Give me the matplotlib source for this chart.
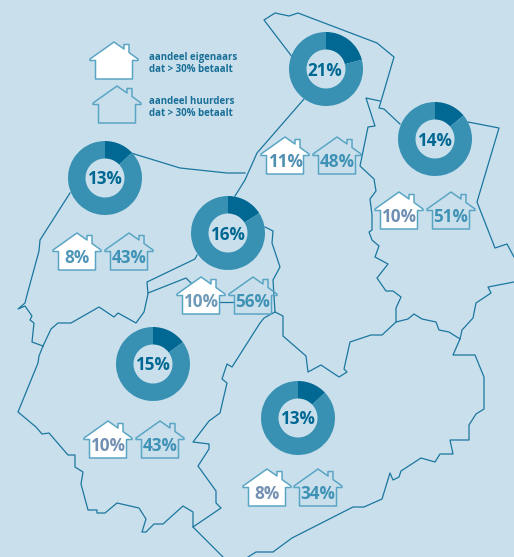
import matplotlib
matplotlib.use("Agg")
import matplotlib.pyplot as plt
from matplotlib.patches import Polygon

plt.rcParams['font.family'] = ['Open Sans', 'DejaVu Sans']

bg = '#c9e0ec'
ring = '#3891b3'
dark = '#006892'
line_col = '#1b769f'
edge = '#5ba5c4'

# donuts: share of all households, pixel centre
donut_vals = [21, 14, 13, 16, 15, 13]
donut_x = [326, 435, 105, 228, 153, 298]
donut_y = [69, 139, 178, 233, 364, 418]

# houses: owners / renters per region
owner_vals = [11, 10, 8, 10, 10, 8]
owner_x = [285, 399, 77, 201, 108, 267]
owner_y = [137, 192, 233, 277, 421, 469]
owner_cols = ['#4f8fb2', '#6f8fb2', '#4f97b8', '#6f9ab8', '#7190b2', '#7190b2']
renter_vals = [48, 51, 43, 56, 43, 34]
renter_x = [337, 451, 129, 253, 160, 318]
renter_y = [137, 192, 233, 277, 421, 469]

# map borders in picture pixels
border_north = [(293, 58), (264, 20), (275, 13), (289, 16), (298, 13), (377, 43), (394, 57),
                (379, 108), (384, 109), (400, 124)]
border_ne = [(468, 122), (499, 128), (477, 202), (495, 248), (507, 244), (514, 257)]
border_mid_e = [(380, 101), (366, 98), (375, 126), (368, 127), (360, 166), (374, 179), (376, 191),
                (370, 199), (372, 215), (372, 230), (369, 232), (372, 240), (379, 246), (375, 257),
                (388, 264), (377, 278), (386, 291), (393, 291), (401, 297), (396, 308), (396, 322)]
border_mid_n = [(304, 99), (257, 153), (245, 180), (235, 196)]
border_nw = [(131, 153), (180, 168), (227, 173), (245, 173)]
border_w = [(70, 193), (40, 240), (39, 251), (27, 295), (25, 303), (18, 309), (25, 306), (32, 316),
            (30, 320), (34, 323), (32, 342), (43, 346)]
border_sw_top = [(43, 346), (51, 329), (58, 323), (71, 323), (99, 307), (114, 317), (118, 313),
                 (136, 323), (144, 312), (148, 294), (147, 282), (195, 259), (197, 255)]
border_strip = [(148, 293), (186, 278), (191, 283)]
border_link = [(220, 302), (233, 302)]
border_mid_s = [(265, 227), (273, 231), (272, 243), (280, 267), (273, 280), (275, 312), (283, 316),
                (283, 336), (306, 356), (308, 372), (321, 365), (339, 377), (347, 372), (344, 369),
                (350, 342), (371, 335), (382, 335), (396, 322), (408, 319), (414, 314), (422, 319),
                (436, 322), (439, 330), (449, 332), (460, 339), (453, 355), (475, 355), (484, 377),
                (484, 409), (476, 414), (469, 425), (469, 440), (450, 440), (453, 454), (440, 454),
                (435, 462), (421, 458), (401, 471), (399, 477), (393, 480), (390, 473), (382, 499),
                (364, 507), (353, 507), (292, 538), (273, 552), (256, 552), (248, 557)]
border_east = [(460, 339), (462, 330), (473, 318), (476, 303), (491, 293), (488, 287), (514, 282)]
border_sw = [(275, 312), (264, 318), (260, 323), (232, 367), (227, 364), (222, 379), (227, 383),
             (220, 413), (209, 421), (193, 442), (209, 444), (209, 449), (198, 466), (216, 491),
             (216, 503), (221, 508), (193, 527), (193, 512), (183, 506), (163, 524), (154, 524),
             (146, 532), (142, 532), (146, 519), (139, 508), (117, 503), (105, 513), (97, 513),
             (97, 510), (88, 510), (81, 484), (83, 472), (75, 467), (75, 455), (68, 455), (49, 433),
             (42, 434), (36, 427), (18, 412), (38, 363), (39, 356), (43, 346)]
border_south = [(193, 527), (223, 557)]
borders = [border_north, border_ne, border_mid_e, border_mid_n, border_nw, border_w, border_sw_top,
           border_strip, border_link, border_mid_s, border_east, border_sw, border_south]

# house outline relative to the top of the roof
house_shape = [(0, 0), (10, 7), (10, 2.5), (15, 2.5), (15, 10.5), (24, 17), (24, 18.5), (18.5, 18.5),
               (18.5, 37), (-18.5, 37), (-18.5, 18.5), (-24, 18.5), (-24, 17)]

fig = plt.figure(figsize=(5.14, 5.57), dpi=100, facecolor=bg)
ax = fig.add_axes([0, 0, 1, 1])


def house(x, y, fill):
    pts = [(x + a, y + b) for a, b in house_shape]
    ax.add_patch(Polygon(pts, closed=True, facecolor=fill, edgecolor=edge, lw=1.1,
                         joinstyle='round', zorder=4))


for b in borders:
    ax.plot([p[0] for p in b], [p[1] for p in b], color=line_col, lw=0.9, zorder=1,
            solid_joinstyle='round')

for v, x, y in zip(donut_vals, donut_x, donut_y):
    # y axis is inverted, so -90 starts at twelve o'clock and runs clockwise
    ax.pie([v, 100 - v], colors=[dark, ring], center=(x, y), radius=37, startangle=-90,
           wedgeprops=dict(width=17.5, linewidth=0), normalize=True)
    ax.text(x - 1, y + 1.5, str(v) + '%', color=dark, fontsize=12.3, fontweight='bold', ha='center',
            va='center', zorder=6)

for v, x, y, c in zip(owner_vals, owner_x, owner_y, owner_cols):
    house(x, y, 'white')
    ax.text(x, y + 25, str(v) + '%', color=c, fontsize=12.3, fontweight='bold', ha='center',
            va='center', zorder=6)

for v, x, y in zip(renter_vals, renter_x, renter_y):
    house(x, y, 'none')
    ax.text(x, y + 25, str(v) + '%', color='#3f92b5', fontsize=12.3, fontweight='bold', ha='center',
            va='center', zorder=6)

# legend
house(114, 42, 'white')
house(117, 86, 'none')
ax.text(149, 57.5, 'aandeel eigenaars', color='#1a6f98', fontsize=7.0, fontweight='bold', va='center')
ax.text(149, 69.5, 'dat > 30% betaalt', color='#1a6f98', fontsize=7.0, fontweight='bold', va='center')
ax.text(149, 101.5, 'aandeel huurders', color='#1a6f98', fontsize=7.0, fontweight='bold', va='center')
ax.text(149, 113.5, 'dat > 30% betaalt', color='#1a6f98', fontsize=7.0, fontweight='bold', va='center')

ax.set_aspect('equal')
ax.set_xlim(0, 514)
ax.set_ylim(557, 0)
ax.axis('off')
fig.savefig('out.png', dpi=100, facecolor=bg)
